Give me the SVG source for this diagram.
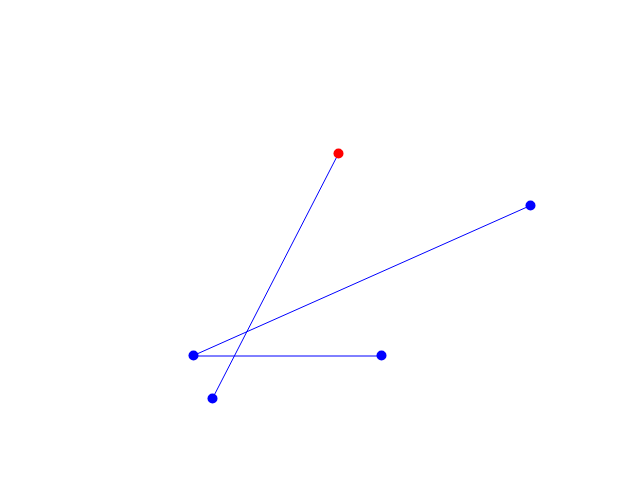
<svg xmlns="http://www.w3.org/2000/svg" width="640" height="480" viewBox="0 0 640 480">
<style>
.edge{stroke:#0000ff;stroke-width:1;fill:none}
.pt{fill:#0000ff}
.red{fill:#ff0000}
</style>
<rect width="640" height="480" fill="#ffffff"/>
<g id="connectors">
<line class="edge" x1="338.5" y1="153.5" x2="212.5" y2="398.5"/>
<line class="edge" x1="193.5" y1="355.5" x2="530.5" y2="205.5"/>
<line class="edge" x1="193.5" y1="356" x2="381.5" y2="356"/>
</g>
<g id="n1"><circle class="red" cx="338.5" cy="153.5" r="5"/></g>
<g id="n2"><circle class="pt" cx="530.5" cy="205.5" r="5"/></g>
<g id="n3"><circle class="pt" cx="193.5" cy="355.5" r="5"/></g>
<g id="n4"><circle class="pt" cx="381.5" cy="355.5" r="5"/></g>
<g id="n5"><circle class="pt" cx="212.5" cy="398.5" r="5"/></g>
</svg>
